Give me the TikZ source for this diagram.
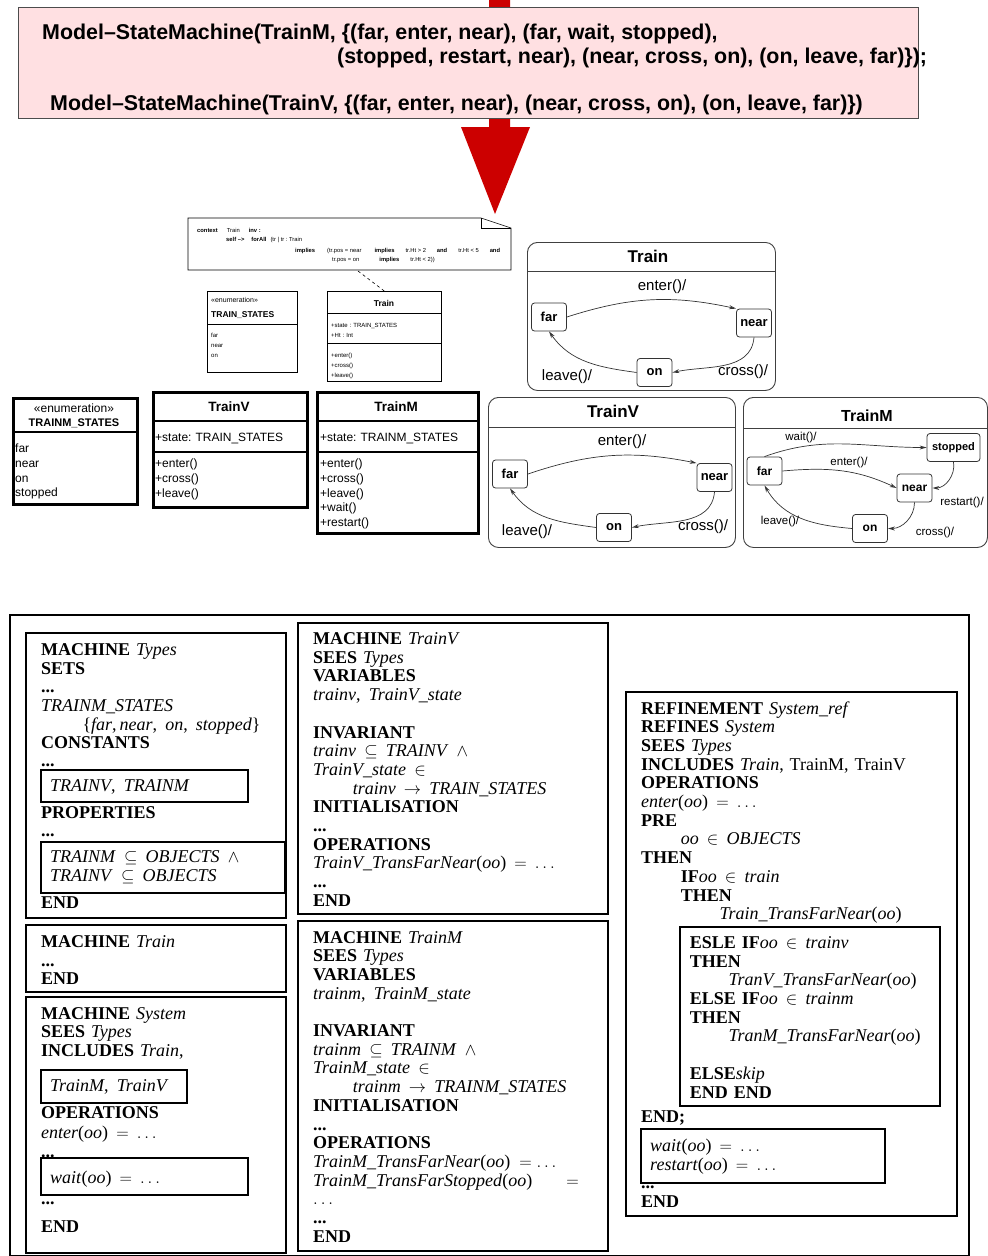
\documentclass[tikz,border=0pt]{standalone}
\usepackage{fontspec}
\setmainfont{Liberation Serif}
\newfontfamily\arialfont{Liberation Sans}
\usetikzlibrary{positioning,shapes,arrows.meta,calc}
\definecolor{bannerpink}{RGB}{255,224,226}
\definecolor{arrowred}{RGB}{204,0,0}
\setlength{\parindent}{0pt}
\frenchspacing
\newcommand{\kw}[1]{\textbf{#1}}
\newcommand{\bdots}{\textbf{...}}
\newcommand{\gap}{\hspace{0.45em}}
\newcommand{\sfsize}[2]{\arialfont\fontsize{#1}{#2}\selectfont}

\begin{document}
\begin{tikzpicture}[x=1pt,y=1pt,
    banner/.style={draw=black!70,line width=0.8pt,fill=bannerpink},
    bannertext/.style={anchor=base west,inner sep=0pt,font=\sfsize{21.4}{24}\bfseries},
    notetext/.style={anchor=base west,inner sep=0pt,font=\sfsize{5.8}{6.5}},
    thinbox/.style={draw,line width=0.6pt,anchor=north west,inner sep=0pt},
    smalltext/.style={anchor=base west,inner sep=0pt,text width=110pt,align=left,font=\sfsize{6}{10}},
    smbox/.style={draw=black!75,line width=0.9pt,rounded corners=10pt,anchor=north west,inner sep=0pt},
    smtitle/.style={font=\sfsize{17}{19}\bfseries},
    smstate/.style={draw=black!80,line width=0.8pt,rounded corners=3pt,minimum width=35pt,minimum height=28pt,inner sep=1pt,font=\sfsize{13}{15}\bfseries},
    trans/.style={draw=black!80,line width=0.7pt,-{Stealth[open,length=7pt,width=4pt]}},
    translabel/.style={font=\sfsize{15}{17}},
    smalllabel/.style={font=\sfsize{11.5}{13}},
    umlbox/.style={draw,line width=2.8pt,anchor=north west,inner sep=0pt},
    umltext/.style={anchor=base west,inner sep=0pt,text width=150pt,align=left,font=\sfsize{12}{14.8}},
    bbox/.style={draw,line width=2.2pt},
    bcode/.style={anchor=base west,inner sep=0pt,text width=320pt,align=left,font=\fontsize{18}{18.7}\selectfont}
]
\useasboundingbox (0,0) rectangle (988,-1256);

% banner and red arrow
\fill[arrowred] (489,0) -- (510,0) -- (510,-127) -- (530,-127) -- (495,-214) -- (461,-127) -- (489,-127) -- cycle;
\node[banner,anchor=north west,minimum width=900pt,minimum height=111pt,inner sep=0pt] (banner) at (18,-7) {};
\node[bannertext] (sm1) at (42,-39.5) {Model–StateMachine(TrainM, \{(far, enter, near), (far, wait, stopped),};
\node[bannertext] (sm2) at (337,-63.5) {(stopped, restart, near), (near, cross, on), (on, leave, far)\});};
\node[bannertext] (sm3) at (50,-110.5) {Model–StateMachine(TrainV, \{(far, enter, near), (near, cross, on), (on, leave, far)\})};

% OCL note
\draw[line width=0.6pt,fill=white] (188,-218) -- (481,-218) -- (511,-228) -- (511,-270) -- (188,-270) -- cycle;
\draw[line width=0.6pt] (481,-218) -- (481,-228) -- (511,-228);
\coordinate (notebot) at (358,-271);
\node[notetext] (ocl1) at (197,-232) {\textbf{context}\hspace{9pt}Train\hspace{9pt}\textbf{inv :}};
\node[notetext] (ocl2) at (226,-241.5) {\textbf{self –>}\hspace{7pt}\textbf{forAll}\hspace{4pt}(tr | tr : Train};
\node[notetext] (ocl3) at (295,-252) {\textbf{implies}\hspace{12pt}(tr.pos = near\hspace{13pt}\textbf{implies}\hspace{11pt}tr.Ht > 2\hspace{11pt}\textbf{and}\hspace{11pt}tr.Ht < 5\hspace{11pt}\textbf{and}};
\node[notetext] (ocl4) at (332,-261) {tr.pos = on\hspace{20pt}\textbf{implies}\hspace{11pt}tr.Ht < 2))};

% small UML
\node[thinbox,minimum width=90pt,minimum height=81pt] (senum) at (207,-291) {};
\node[anchor=base west,inner sep=0pt,font=\sfsize{7}{8}] (senumst) at (211,-302) {«enumeration»};
\node[anchor=base west,inner sep=0pt,font=\sfsize{8.5}{10}\bfseries] (senumnm) at (211,-317) {TRAIN\_STATES};
\draw[line width=0.6pt] ($(senum.north west)+(0,-33)$) -- ($(senum.north east)+(0,-33)$);
\node[smalltext] (senumlit) at (211,-337) {far\\near\\on};

\node[thinbox,minimum width=114pt,minimum height=90pt] (strain) at (327,-291) {};
\node[font=\sfsize{8.5}{10}\bfseries] (strainnm) at (384,-303) {Train};
\draw[line width=0.6pt] ($(strain.north west)+(0,-22)$) -- ($(strain.north east)+(0,-22)$);
\draw[line width=0.6pt] ($(strain.north west)+(0,-52)$) -- ($(strain.north east)+(0,-52)$);
\node[smalltext] (strainat) at (331,-327) {+state : TRAIN\_STATES\\+Ht : Int};
\node[smalltext] (strainop) at (331,-357) {+enter()\\+cross()\\+leave()};
\draw[dashed,line width=0.6pt] (notebot) -- (strain.north);

% state machine Train
\node[smbox,minimum width=248pt,minimum height=148pt] (trainsm) at (527,-242) {};
\node[smtitle] (trainsmnm) at (648,-256) {Train};
\draw[draw=black!75,line width=0.9pt] ($(trainsm.north west)+(0,-29)$) -- ($(trainsm.north east)+(0,-29)$);
\node[smstate] (tfar) at (549,-317) {far};
\node[smstate] (tnear) at (754,-323) {near};
\node[smstate] (ton) at (654.5,-372.5) {on};
\draw[trans] (tfar.east) to[bend left=15] (tnear.north west);
\draw[trans] (tnear.south) to[out=-95,in=12] (ton.east);
\draw[trans] (ton.west) to[out=172,in=-55] (tfar.south);
\node[translabel] (tenter) at (662,-287) {enter()/};
\node[translabel] (tcross) at (743,-372) {cross()/};
\node[translabel] (tleave) at (567,-377) {leave()/};

% state machine TrainV
\node[smbox,minimum width=247pt,minimum height=150pt] (trainvsm) at (488,-397) {};
\node[smtitle] (trainvsmnm) at (613,-411) {TrainV};
\draw[draw=black!75,line width=0.9pt] ($(trainvsm.north west)+(0,-30)$) -- ($(trainvsm.north east)+(0,-30)$);
\node[smstate] (vfar) at (510,-474) {far};
\node[smstate] (vnear) at (714.5,-477.5) {near};
\node[smstate] (von) at (614,-527.5) {on};
\draw[trans] (vfar.east) to[bend left=15] (vnear.north west);
\draw[trans] (vnear.south) to[out=-95,in=12] (von.east);
\draw[trans] (von.west) to[out=172,in=-55] (vfar.south);
\node[translabel] (venter) at (622,-442) {enter()/};
\node[translabel] (vcross) at (703,-527) {cross()/};
\node[translabel] (vleave) at (527,-532) {leave()/};

% state machine TrainM
\node[smbox,minimum width=244pt,minimum height=150pt] (trainmsm) at (743,-397) {};
\node[smtitle,font=\sfsize{16}{18}\bfseries] (trainmsmnm) at (867,-416) {TrainM};
\draw[draw=black!75,line width=0.9pt] ($(trainmsm.north west)+(0,-31)$) -- ($(trainmsm.north east)+(0,-31)$);
\node[smstate,font=\sfsize{12}{14}\bfseries] (mfar) at (764.5,-471) {far};
\node[smstate,font=\sfsize{11}{13}\bfseries,minimum width=53pt] (mstopped) at (953.5,-447.5) {stopped};
\node[smstate,font=\sfsize{12}{14}\bfseries] (mnear) at (914.5,-488) {near};
\node[smstate,font=\sfsize{12}{14}\bfseries] (mon) at (870,-528.5) {on};
\draw[trans] (mfar.north) to[out=20,in=180] (mstopped.west);
\draw[trans] (mfar.east) to[out=5,in=155] (mnear.west);
\draw[trans] (mstopped.south) to[out=-80,in=0] (mnear.east);
\draw[trans] (mnear.south) to[out=-90,in=0] (mon.east);
\draw[trans] (mon.west) to[out=175,in=-60] (mfar.south);
\node[smalllabel] (mwait) at (801,-438) {wait()/};
\node[smalllabel] (menter) at (849,-463) {enter()/};
\node[smalllabel] (mrestart) at (962,-503) {restart()/};
\node[smalllabel] (mleave) at (780,-522) {leave()/};
\node[smalllabel] (mcross) at (935,-533) {cross()/};

% classes
\node[umlbox,minimum width=124pt,minimum height=106pt] (enumbox) at (12,-397) {};
\node[font=\sfsize{12}{14}] (enumst) at (74,-408) {«enumeration»};
\node[font=\sfsize{11}{13}\bfseries] (enumnm) at (74,-423) {TRAINM\_STATES};
\draw[line width=2.8pt] ($(enumbox.north west)+(0,-35)$) -- ($(enumbox.north east)+(0,-35)$);
\node[umltext] (enumlit) at (15,-452.5) {far\\near\\on\\stopped};

\node[umlbox,minimum width=154pt,minimum height=115pt] (trainvcl) at (152,-391) {};
\node[font=\sfsize{13.5}{15}\bfseries] (trainvclnm) at (229,-407) {TrainV};
\draw[line width=2.8pt] ($(trainvcl.north west)+(0,-30)$) -- ($(trainvcl.north east)+(0,-30)$);
\draw[line width=2.8pt] ($(trainvcl.north west)+(0,-61)$) -- ($(trainvcl.north east)+(0,-61)$);
\node[umltext] (trainvclat) at (155,-441.5) {+state: TRAIN\_STATES};
\node[umltext] (trainvclop) at (155,-467.5) {+enter()\\+cross()\\+leave()};

\node[umlbox,minimum width=161pt,minimum height=141pt] (trainmcl) at (316,-391) {};
\node[font=\sfsize{13.5}{15}\bfseries] (trainmclnm) at (396,-407) {TrainM};
\draw[line width=2.8pt] ($(trainmcl.north west)+(0,-30)$) -- ($(trainmcl.north east)+(0,-30)$);
\draw[line width=2.8pt] ($(trainmcl.north west)+(0,-61)$) -- ($(trainmcl.north east)+(0,-61)$);
\node[umltext] (trainmclat) at (320,-441.5) {+state: TRAINM\_STATES};
\node[umltext] (trainmclop) at (320,-467.5) {+enter()\\+cross()\\+leave()\\+wait()\\+restart()};

% B machines
\draw[line width=1.2pt] (10,-615) rectangle (969,-1256);

\draw[bbox] (26,-633) rectangle (286,-918);
\draw[bbox] (41,-770) rectangle (248,-802);
\draw[bbox] (41,-842) rectangle (285,-893);
\node[bcode] (typescode) at (41,-655.5) {\kw{MACHINE} \textit{Types}\\
\kw{SETS}\\
\bdots\\
\textit{TRAINM\_STATES}\\
\hspace*{2.3em}\{\textit{far},\,\textit{near},\gap\textit{on},\gap\textit{stopped}\}\\[-1pt]
\kw{CONSTANTS}\\
\bdots\\[6pt]
\hspace*{0.5em}\textit{TRAINV},\gap\textit{TRAINM}\\[8pt]
\kw{PROPERTIES}\\
\bdots\\[7pt]
\hspace*{0.5em}\textit{TRAINM}\gap$\subseteq$\gap\textit{OBJECTS}\gap$\wedge$\\
\hspace*{0.5em}\textit{TRAINV}\gap$\subseteq$\gap\textit{OBJECTS}\\[9pt]
\kw{END}};

\draw[bbox] (26,-925) rectangle (286,-992);
\node[bcode] (traincode) at (41,-947.5) {\kw{MACHINE} \textit{Train}\\
\bdots\\
\kw{END}};

\draw[bbox] (26,-997) rectangle (286,-1253);
\draw[bbox] (41,-1070) rectangle (187,-1103);
\draw[bbox] (41,-1158) rectangle (248,-1195);
\node[bcode] (systemcode) at (41,-1019) {\kw{MACHINE} \textit{System}\\
\kw{SEES} \textit{Types}\\
\kw{INCLUDES} \textit{Train},\\[16pt]
\hspace*{0.5em}\textit{TrainM},\gap\textit{TrainV}\\[9pt]
\kw{OPERATIONS}\\[1pt]
\textit{enter}(\textit{oo})\gap$=$\gap$\ldots$\\
\bdots\\[8pt]
\hspace*{0.5em}\textit{wait}(\textit{oo})\gap$=$\gap$\ldots$\\[2pt]
\bdots\\[9pt]
\kw{END}};

\draw[bbox] (298,-623) rectangle (608,-914);
\node[bcode] (trainvcode) at (313,-644.5) {\kw{MACHINE} \textit{TrainV}\\
\kw{SEES} \textit{Types}\\
\kw{VARIABLES}\\
\textit{trainv},\gap\textit{TrainV\_state}\\[18.7pt]
\kw{INVARIANT}\\
\textit{trainv}\gap$\subseteq$\gap\textit{TRAINV}\gap$\wedge$\\
\textit{TrainV\_state}\gap$\in$\\
\hspace*{2.2em}\textit{trainv}\gap$\rightarrow$\gap\textit{TRAIN\_STATES}\\
\kw{INITIALISATION}\\
\bdots\\
\kw{OPERATIONS}\\
\textit{TrainV\_TransFarNear}(\textit{oo})\gap$=$\gap$\ldots$\\
\bdots\\
\kw{END}};

\draw[bbox] (298,-921) rectangle (608,-1251);
\node[bcode] (trainmcode) at (313,-943) {\kw{MACHINE} \textit{TrainM}\\
\kw{SEES} \textit{Types}\\
\kw{VARIABLES}\\
\textit{trainm},\gap\textit{TrainM\_state}\\[18.7pt]
\kw{INVARIANT}\\
\textit{trainm}\gap$\subseteq$\gap\textit{TRAINM}\gap$\wedge$\\
\textit{TrainM\_state}\gap$\in$\\
\hspace*{2.2em}\textit{trainm}\gap$\rightarrow$\gap\textit{TRAINM\_STATES}\\
\kw{INITIALISATION}\\
\bdots\\
\kw{OPERATIONS}\\
\textit{TrainM\_TransFarNear}(\textit{oo})\ \,$=\ldots$\\
\textit{TrainM\_TransFarStopped}(\textit{oo})\hspace{1.9em}$=$\\
$\ldots$\\
\bdots\\
\kw{END}};

\draw[bbox] (626,-692) rectangle (957,-1216);
\draw[bbox] (680,-927) rectangle (940,-1106);
\draw[bbox] (641,-1129) rectangle (885,-1183);
\node[bcode] (refcode) at (641,-714) {\kw{REFINEMENT} \textit{System\_ref}\\
\kw{REFINES} \textit{System}\\
\kw{SEES} \textit{Types}\\
\kw{INCLUDES} \textit{Train}, TrainM, TrainV\\
\kw{OPERATIONS}\\
\textit{enter}(\textit{oo})\gap$=$\gap$\ldots$\\
\kw{PRE}\\
\hspace*{2.2em}\textit{oo}\gap$\in$\gap\textit{OBJECTS}\\
\kw{THEN}\\
\hspace*{2.2em}\kw{IF}\textit{oo}\gap$\in$\gap\textit{train}\\
\hspace*{2.2em}\kw{THEN}\\
\hspace*{4.35em}\textit{Train\_TransFarNear}(\textit{oo})\\[10pt]
\hspace*{2.7em}\kw{ESLE IF}\textit{oo}\gap$\in$\gap\textit{trainv}\\
\hspace*{2.7em}\kw{THEN}\\
\hspace*{4.85em}\textit{TranV\_TransFarNear}(\textit{oo})\\
\hspace*{2.7em}\kw{ELSE IF}\textit{oo}\gap$\in$\gap\textit{trainm}\\
\hspace*{2.7em}\kw{THEN}\\
\hspace*{4.85em}\textit{TranM\_TransFarNear}(\textit{oo})\\[18.7pt]
\hspace*{2.7em}\kw{ELSE}\textit{skip}\\
\hspace*{2.7em}\kw{END END}\\[6pt]
\kw{END;}\\[10pt]
\hspace*{0.5em}\textit{wait}(\textit{oo})\gap$=$\gap$\ldots$\\
\hspace*{0.5em}\textit{restart}(\textit{oo})\gap$=$\gap$\ldots$\\
\bdots\\
\kw{END}};
\end{tikzpicture}
\end{document}
